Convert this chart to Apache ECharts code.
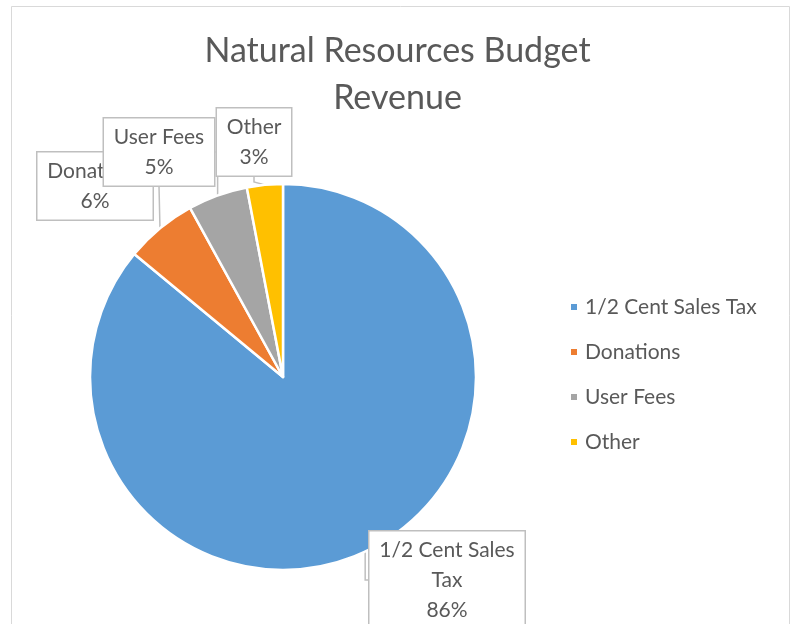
<!DOCTYPE html>
<html>
<head>
<meta charset="utf-8">
<script src="https://cdn.jsdelivr.net/npm/echarts@6/dist/echarts.min.js"></script>
<style>
html,body{margin:0;padding:0;background:#fff;}
#main{width:795px;height:624px;}
</style>
</head>
<body>
<div id="main"></div>
<script>
// 数据
var categories = ['1/2 Cent Sales Tax', 'Donations', 'User Fees', 'Other'];
var labelNames = ['1/2 Cent Sales\nTax', 'Donations', 'User Fees', 'Other'];
var values = [86, 6, 5, 3];
var colors = ['#5B9BD5', '#ED7D31', '#A5A5A5', '#FFC000'];

var chart = echarts.init(document.getElementById('main'));

// 标签框位置 (中心点)
var boxPos = [[447, 580], [95, 186], [159, 152], [254, 142]];

// 量一下文字宽度, 避免饼图把外部标签截断
var ctx = document.createElement('canvas').getContext('2d');
ctx.font = '21px Lato';
function textWidth(str){
    var w = 0;
    str.split('\n').forEach(function(s){ w = Math.max(w, ctx.measureText(s).width); });
    return Math.ceil(w) + 1;
}

var pieData = categories.map(function(name, i){
    var txt = labelNames[i] + '\n' + values[i] + '%';
    return {name: name, value: values[i], itemStyle: {color: colors[i]}, label: {width: textWidth(txt)}};
});

var option = {
    backgroundColor: '#fff',
    textStyle: {fontFamily: 'Lato'},
    title: {
        text: 'Natural Resources Budget\nRevenue',
        left: 'center',
        top: 23,
        textStyle: {
            fontFamily: 'Lato',
            fontWeight: 'normal',
            fontSize: 34,
            lineHeight: 47,
            color: '#595959'
        }
    },
    legend: {
        orient: 'vertical',
        left: 564,
        top: 291,
        itemWidth: 8,
        itemHeight: 8,
        itemGap: 23,
        icon: 'rect',
        data: categories,
        textStyle: {fontFamily: 'Lato', fontSize: 21, lineHeight: 22, color: '#595959', padding: [0, 0, 0, 2]}
    },
    graphic: [{
        type: 'rect',
        shape: {x: 11.5, y: 6.5, width: 778, height: 700},
        style: {fill: 'none', stroke: '#d9d9d9', lineWidth: 1},
        silent: true,
        z: -1
    }],
    series: [{
        type: 'pie',
        center: [283, 377],
        radius: 193,
        startAngle: 90,
        clockwise: true,
        animation: false,
        itemStyle: {borderColor: '#fff', borderWidth: 2.5},
        label: {
            show: true,
            position: 'outside',
            formatter: function(p){
                return labelNames[p.dataIndex] + '\n' + p.value + '%';
            },
            fontFamily: 'Lato',
            fontSize: 21,
            lineHeight: 30,
            color: '#595959',
            align: 'center',
            overflow: 'none',
            backgroundColor: '#fff',
            borderColor: '#bfbfbf',
            borderWidth: 1.5,
            padding: [4, 9, 3, 9]
        },
        labelLine: {
            show: true,
            length: 10,
            length2: 5,
            lineStyle: {color: '#bfbfbf', width: 1.5}
        },
        labelLayout: function(params){
            var p = boxPos[params.dataIndex];
            return {x: p[0], y: p[1], align: 'center', verticalAlign: 'middle'};
        },
        data: pieData
    }]
};

chart.setOption(option);
</script>
</body>
</html>
